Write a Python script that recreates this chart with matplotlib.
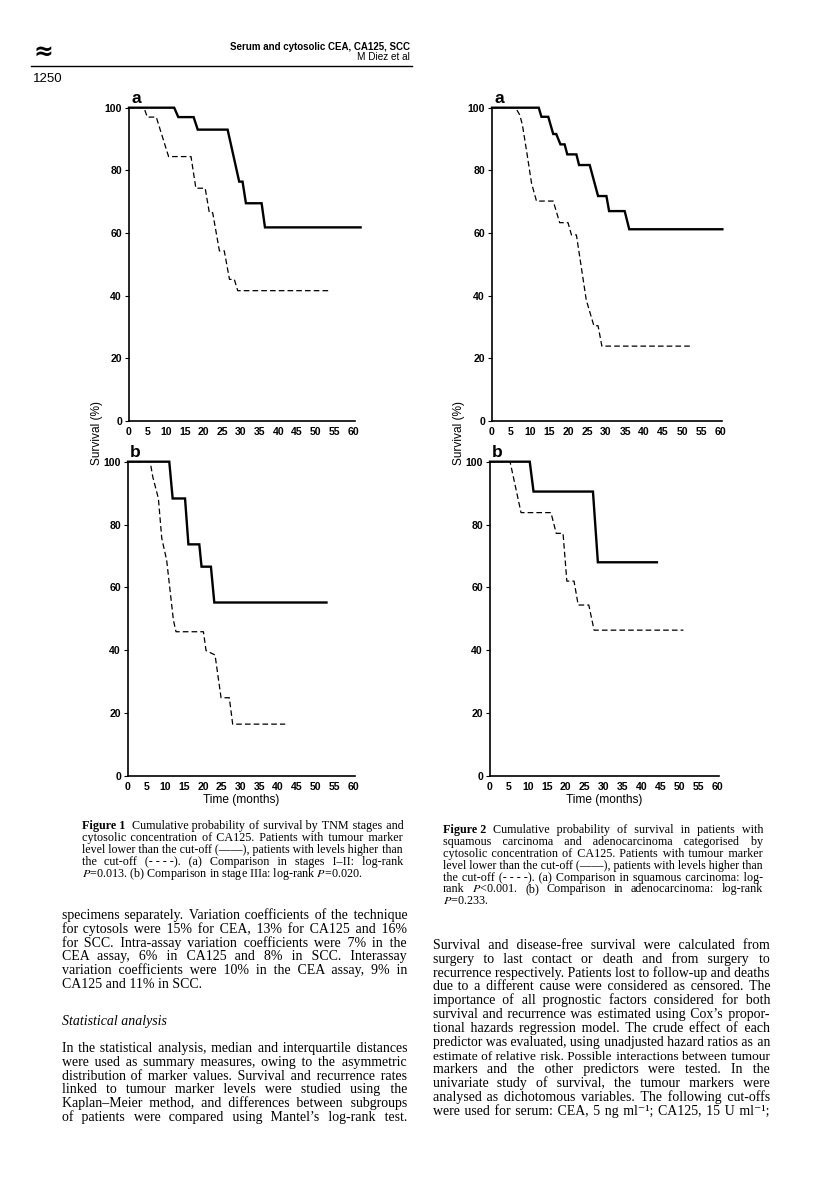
import matplotlib
matplotlib.use("Agg")
import matplotlib.pyplot as plt
from matplotlib.lines import Line2D

W, H = 816, 1182
plt.rcParams['mathtext.fontset'] = 'stix'
SERIF = ['Liberation Serif', 'DejaVu Serif']

# survival curves: time (months) and survival (%)
f1a_low_t = [0, 12.1, 13.2, 17.3, 18.4, 26.4, 29.5, 30.4, 31.3, 35.5, 36.4, 62]
f1a_low_s = [100, 100, 97, 97, 93, 93, 76.4, 76.4, 69.5, 69.5, 61.8, 61.8]
f1a_high_t = [0, 4.0, 4.9, 7.3, 10.6, 16.6, 17.9, 20.4, 21.5, 22.4, 24.2, 25.5, 26.9, 28.2, 29.1, 53.9]
f1a_high_s = [100, 100, 97, 97, 84.4, 84.4, 74.3, 74.3, 66.5, 66.5, 54.3, 54.3, 45.2, 45.2, 41.6, 41.6]

f1b_low_t = [0, 11.0, 11.9, 15.2, 16.1, 19.0, 19.6, 22.1, 23.0, 52.9]
f1b_low_s = [100, 100, 88.3, 88.3, 73.7, 73.7, 66.6, 66.6, 55.2, 55.2]
f1b_high_t = [0, 5.9, 6.6, 8.1, 9.0, 10.3, 12.1, 12.8, 20.1, 20.8, 23.2, 24.8, 27.0, 27.9, 41.9]
f1b_high_s = [100, 100, 95.2, 88.3, 75.6, 68.7, 49.6, 45.9, 45.9, 39.9, 38.5, 24.9, 24.9, 16.5, 16.5]

f2a_low_t = [0, 12.3, 13.0, 14.8, 16.1, 16.9, 18.0, 19.1, 19.8, 22.2, 22.9, 25.7, 27.9, 30.1, 30.8, 34.9, 36.1, 60.6]
f2a_low_s = [100, 100, 97.1, 97.1, 91.6, 91.6, 88.3, 88.3, 85.1, 85.1, 81.7, 81.7, 71.8, 71.8, 67.0, 67.0, 61.2, 61.2]
f2a_high_t = [0, 6.2, 7.3, 8.0, 9.2, 10.4, 11.7, 16.1, 17.8, 20.0, 20.9, 22.2, 24.8, 26.8, 27.9, 28.9, 52.7]
f2a_high_s = [100, 100, 97.7, 94.5, 85.4, 75.9, 70.2, 70.2, 63.3, 63.3, 59.4, 59.4, 38.6, 30.4, 30.4, 23.9, 23.9]

f2b_low_t = [0, 10.5, 11.5, 27.2, 28.5, 44.1]
f2b_low_s = [100, 100, 90.5, 90.5, 68.0, 68.0]
f2b_high_t = [0, 5.3, 8.2, 16.1, 17.5, 19.3, 20.3, 22.2, 23.3, 26.1, 27.5, 51.1]
f2b_high_s = [100, 100, 83.8, 83.8, 77.2, 77.2, 62.0, 62.0, 54.4, 54.4, 46.4, 46.4]

x_ticks = list(range(0, 61, 5))
y_ticks = [0, 20, 40, 60, 80, 100]

caption1_head = "Figure 1"
caption1 = [
    "Cumulative probability of survival by TNM stages and",
    "cytosolic concentration of CA125. Patients with tumour marker",
    "level lower than the cut-off (\u2014\u2014), patients with levels higher than",
    "the cut-off (-\u00a0-\u00a0-\u00a0-). (a) Comparison in stages I\u2013II: log-rank",
    "$P$=0.013. (b) Comparison in stage IIIa: log-rank $P$=0.020.",
]
caption2_head = "Figure 2"
caption2 = [
    "Cumulative probability of survival in patients with",
    "squamous carcinoma and adenocarcinoma categorised by",
    "cytosolic concentration of CA125. Patients with tumour marker",
    "level lower than the cut-off (\u2014\u2014), patients with levels higher than",
    "the cut-off (-\u00a0-\u00a0-\u00a0-). (a) Comparison in squamous carcinoma: log-",
    "rank $P$<0.001. (b) Comparison in adenocarcinoma: log-rank",
    "$P$=0.233.",
]
left_par1 = [
    "specimens separately. Variation coefficients of the technique",
    "for cytosols were 15% for CEA, 13% for CA125 and 16%",
    "for SCC. Intra-assay variation coefficients were 7% in the",
    "CEA assay, 6% in CA125 and 8% in SCC. Interassay",
    "variation coefficients were 10% in the CEA assay, 9% in",
    "CA125 and 11% in SCC.",
]
left_head = "Statistical analysis"
left_par2 = [
    "In the statistical analysis, median and interquartile distances",
    "were used as summary measures, owing to the asymmetric",
    "distribution of marker values. Survival and recurrence rates",
    "linked to tumour marker levels were studied using the",
    "Kaplan\u2013Meier method, and differences between subgroups",
    "of patients were compared using Mantel\u2019s log-rank test.",
]
right_par = [
    "Survival and disease-free survival were calculated from",
    "surgery to last contact or death and from surgery to",
    "recurrence respectively. Patients lost to follow-up and deaths",
    "due to a different cause were considered as censored. The",
    "importance of all prognostic factors considered for both",
    "survival and recurrence was estimated using Cox\u2019s propor-",
    "tional hazards regression model. The crude effect of each",
    "predictor was evaluated, using unadjusted hazard ratios as an",
    "estimate of relative risk. Possible interactions between tumour",
    "markers and the other predictors were tested. In the",
    "univariate study of survival, the tumour markers were",
    "analysed as dichotomous variables. The following cut-offs",
    "were used for serum: CEA, 5 ng ml\u207b\u00b9; CA125, 15 U ml\u207b\u00b9;",
]

fig = plt.figure(figsize=(W / 100, H / 100), dpi=100)
renderer = fig.canvas.get_renderer()


def fx(x):
    return x / W


def fy(y):
    return 1 - y / H


def width_of(s, size, **kw):
    t = fig.text(0, 0, s, family=SERIF, size=size, **kw)
    w = t.get_window_extent(renderer).width
    t.remove()
    return w


_pad = {}


def pad_char(size):
    # a narrow space used to stretch justified lines
    if size not in _pad:
        best = (' ', width_of('a' + ' ' * 10 + 'a', size) / 10)
        for ch in ('\u200a', '\u2009'):
            w = (width_of('a' + ch * 20 + 'a', size) - width_of('aa', size)) / 20
            if 0.4 < w < best[1]:
                best = (ch, w)
        _pad[size] = best
    return _pad[size]


def justify_words(line, x0, x1, yb, size):
    # word by word, needed when a line mixes mathtext with plain text
    objs = [fig.text(0, 0, w, family=SERIF, size=size, va='baseline') for w in line.split(' ')]
    widths = [t.get_window_extent(renderer).width for t in objs]
    gap = (x1 - x0 - sum(widths)) / (len(objs) - 1)
    x = x0
    for t, w in zip(objs, widths):
        t.set_position((fx(x), fy(round(yb))))
        x += w + gap


def justify(line, x0, x1, yb, size, last=False):
    if last:
        fig.text(fx(x0), fy(yb), line, family=SERIF, size=size, va='baseline')
        return
    if '$' in line:
        justify_words(line, x0, x1, yb, size)
        return
    words = line.split(' ')
    t = fig.text(fx(x0), fy(yb), line, family=SERIF, size=size, va='baseline')
    if len(words) < 2:
        return
    extra = (x1 - x0) - t.get_window_extent(renderer).width
    # too long: shrink this line a little until it fits
    while extra < 0 and t.get_fontsize() > size * 0.9:
        t.set_fontsize(t.get_fontsize() - 0.05)
        extra = (x1 - x0) - t.get_window_extent(renderer).width
    ch, cw = pad_char(t.get_fontsize())
    k = int(round(extra / cw))
    if k <= 0:
        return
    n = len(words) - 1
    parts = [words[0]]
    for i, w in enumerate(words[1:]):
        cnt = (k * (i + 1)) // n - (k * i) // n
        parts.append(' ' + ch * cnt + w)
    t.set_text(''.join(parts))


def paragraph(lines, x0, x1, y0, step, size, last_left=True, head=None):
    for i, l in enumerate(lines):
        xs = x0
        if i == 0 and head is not None:
            h = fig.text(fx(x0), fy(y0), head, family=SERIF, weight='bold', size=size, va='baseline')
            xs = x0 + h.get_window_extent(renderer).width + size * 0.75
        justify(l, xs, x1, y0 + i * step, size, last=(last_left and i == len(lines) - 1))


def km_panel(rect, curves, letter, show_xlabel):
    left, top, right, bottom = rect
    ax = fig.add_axes([fx(left), fy(bottom), fx(right - left), (bottom - top) / H])
    for t, s, solid in curves:
        if solid:
            ax.plot(t, s, color='black', lw=1.7, clip_on=False, solid_joinstyle='miter')
        else:
            ax.plot(t, s, color='black', lw=0.9, dashes=(4.5, 2.5), clip_on=False)
    ax.set_xlim(0, 60.5)
    ax.set_ylim(0, 100)
    ax.spines['top'].set_visible(False)
    ax.spines['right'].set_visible(False)
    ax.spines['left'].set_linewidth(1.2)
    ax.spines['bottom'].set_linewidth(1.2)
    ax.set_xticks(x_ticks)
    ax.set_yticks(y_ticks)
    ax.tick_params(axis='y', length=3, width=0.8, pad=2)
    ax.tick_params(axis='x', length=0, pad=4)
    for lab in ax.get_xticklabels() + ax.get_yticklabels():
        lab.set_family('Liberation Sans')
        lab.set_fontsize(7.6)
        lab.set_fontweight('bold')
    ax.text(0.01, 1.005, letter, transform=ax.transAxes, family='Liberation Sans',
            weight='bold', size=12.5, va='bottom', ha='left')
    if show_xlabel:
        ax.set_xlabel('Time (months)', family='Liberation Sans', size=8.6, labelpad=2)
    return ax


km_panel((129, 107.7, 355, 421), [(f1a_low_t, f1a_low_s, True), (f1a_high_t, f1a_high_s, False)], 'a', False)
km_panel((128, 461.7, 355, 776), [(f1b_low_t, f1b_low_s, True), (f1b_high_t, f1b_high_s, False)], 'b', True)
km_panel((492, 107.7, 722, 421), [(f2a_low_t, f2a_low_s, True), (f2a_high_t, f2a_high_s, False)], 'a', False)
km_panel((490, 461.7, 719, 776), [(f2b_low_t, f2b_low_s, True), (f2b_high_t, f2b_high_s, False)], 'b', True)

# shared y labels
for xl in (97, 459):
    fig.text(fx(xl), fy(433), 'Survival (%)', rotation=90, family='Liberation Sans',
             size=8.6, ha='center', va='center')

# running head
fig.text(fx(410), fy(47), 'Serum and cytosolic CEA, CA125, SCC', family='Liberation Sans',
         weight='bold', size=7.0, ha='right', va='center')
fig.text(fx(410), fy(57), 'M Diez et al', family='Liberation Sans', size=7.2, ha='right', va='center')
fig.add_artist(Line2D([fx(31), fx(412)], [fy(66), fy(66)], color='black', lw=1.0))
fig.text(fx(33), fy(79), '1250', family='Liberation Sans', size=9.5, ha='left', va='center')
fig.text(fx(43), fy(52), '\u2248', family='DejaVu Sans', weight='bold', size=17, ha='center', va='center')

# captions and body text
paragraph(caption1, 82, 403, 829.5, 12, 8.7, head=caption1_head)
paragraph(caption2, 443, 763, 832.5, 12, 8.7, head=caption2_head)
paragraph(left_par1, 62, 407, 919, 13.8, 10.0)
fig.text(fx(62), fy(1025), left_head, family=SERIF, style='italic', size=10.0, va='baseline')
paragraph(left_par2, 62, 407, 1052, 13.8, 10.0, last_left=False)
paragraph(right_par, 433, 770, 949, 13.83, 10.0, last_left=False)

fig.savefig('out.png', dpi=100)
